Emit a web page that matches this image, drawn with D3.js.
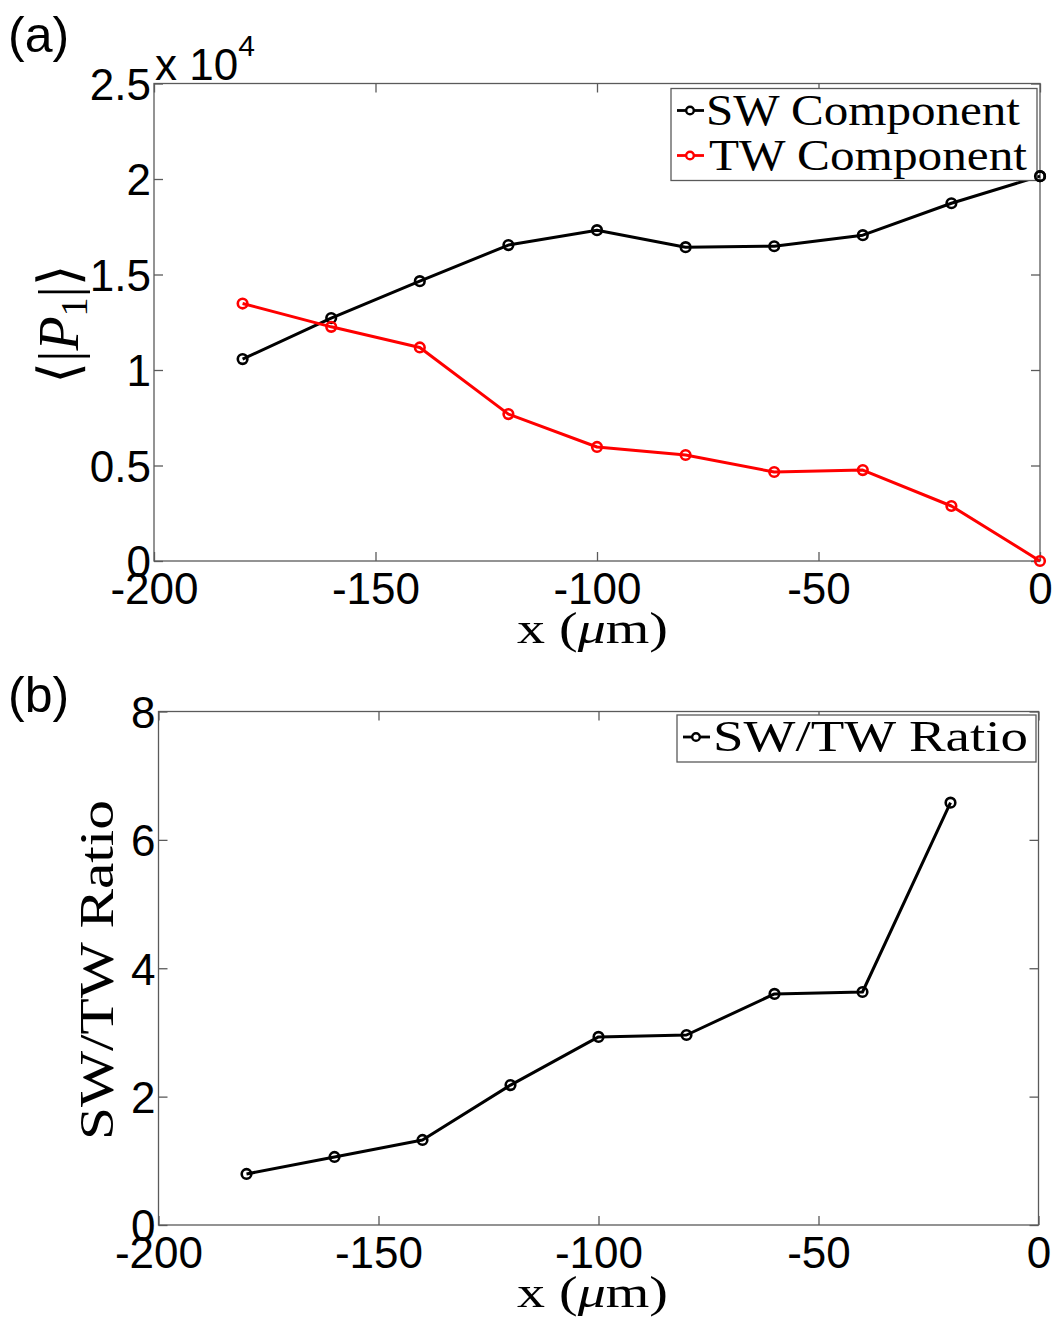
<!DOCTYPE html>
<html>
<head>
<meta charset="utf-8">
<script src="https://cdn.jsdelivr.net/npm/d3@7"></script>
<style>
  html, body { margin: 0; padding: 0; background: #fff; }
  svg { display: block; }
  .tick text { font-family: "Liberation Sans", Arial, sans-serif; fill: #000; }
</style>
</head>
<body>
<svg id="chart" width="1057" height="1330"></svg>
<script>
// Positions along the channel (micrometres)
const positions = [-180, -160, -140, -120, -100, -80, -60, -40, -20, 0];
// Mean |P1| amplitude of the standing-wave and travelling-wave components (units of 1e4)
const swComponent = [1.057, 1.272, 1.465, 1.654, 1.732, 1.643, 1.648, 1.706, 1.873, 2.015];
const twComponent = [1.348, 1.226, 1.118, 0.769, 0.597, 0.555, 0.466, 0.476, 0.288, 0.0];
// SW/TW ratio (no point at x = 0, where TW vanishes)
const ratioPositions = [-180, -160, -140, -120, -100, -80, -60, -40, -20];
const swTwRatio = [0.795, 1.06, 1.325, 2.18, 2.93, 2.96, 3.60, 3.63, 6.58];

const xTicks = [-200, -150, -100, -50, 0];
const yTicksA = [0, 0.5, 1, 1.5, 2, 2.5];
const yTicksB = [0, 2, 4, 6, 8];

const svg = d3.select("#chart");
const axisColor = "#5a5a5a";
const sans = "'Liberation Sans', Arial, sans-serif";
const serif = "'Liberation Serif', 'DejaVu Serif', serif";
const plain = d => String(d);

function panel(opts) {
  const { left, right, top, bottom, xDomain, yDomain, yTicks } = opts;
  const x = d3.scaleLinear().domain(xDomain).range([left, right]);
  const y = d3.scaleLinear().domain(yDomain).range([bottom, top]);
  const g = svg.append("g");

  // Frame
  g.append("rect")
    .attr("x", left).attr("y", top)
    .attr("width", right - left).attr("height", bottom - top)
    .attr("fill", "none").attr("stroke", axisColor).attr("stroke-width", 1.3);

  const tickLen = 9;
  // Bottom axis with labels
  const bx = g.append("g").attr("transform", `translate(0,${bottom})`)
    .call(d3.axisBottom(x).tickValues(xTicks).tickSize(-tickLen).tickPadding(0).tickFormat(plain));
  bx.select(".domain").remove();
  bx.selectAll("line").attr("stroke", axisColor).attr("stroke-width", 1.3);
  bx.selectAll("text").attr("y", 43).attr("dy", null).attr("font-size", 44);

  // Top axis (ticks only)
  const tx = g.append("g").attr("transform", `translate(0,${top})`)
    .call(d3.axisTop(x).tickValues(xTicks).tickSize(-tickLen).tickFormat(""));
  tx.select(".domain").remove();
  tx.selectAll("line").attr("stroke", axisColor).attr("stroke-width", 1.3);

  // Left axis with labels
  const ly = g.append("g").attr("transform", `translate(${left},0)`)
    .call(d3.axisLeft(y).tickValues(yTicks).tickSize(-tickLen).tickPadding(0).tickFormat(plain));
  ly.select(".domain").remove();
  ly.selectAll("line").attr("stroke", axisColor).attr("stroke-width", 1.3);
  ly.selectAll("text").attr("x", -3).attr("dy", "0.36em").attr("font-size", 44);

  // Right axis (ticks only)
  const ry = g.append("g").attr("transform", `translate(${right},0)`)
    .call(d3.axisRight(y).tickValues(yTicks).tickSize(-tickLen).tickFormat(""));
  ry.select(".domain").remove();
  ry.selectAll("line").attr("stroke", axisColor).attr("stroke-width", 1.3);

  // x-axis title
  const xl = g.append("text")
    .attr("x", 517).attr("y", bottom + 82)
    .attr("textLength", 151).attr("lengthAdjust", "spacingAndGlyphs")
    .attr("font-family", serif).attr("font-size", 45).attr("fill", "#000");
  xl.append("tspan").text("x (");
  xl.append("tspan").attr("font-style", "italic").text("\u03bc");
  xl.append("tspan").text("m)");

  return { g, x, y };
}

function series(p, xs, ys, color) {
  const line = d3.line().x((d, i) => p.x(xs[i])).y(d => p.y(d));
  p.g.append("path").datum(ys)
    .attr("d", line).attr("fill", "none")
    .attr("stroke", color).attr("stroke-width", 3).attr("stroke-linejoin", "round");
  p.g.selectAll(null).data(ys).enter().append("circle")
    .attr("cx", (d, i) => p.x(xs[i])).attr("cy", d => p.y(d))
    .attr("r", 4.8).attr("fill", "none").attr("stroke", color).attr("stroke-width", 2.6);
}

function legend(g, x0, y0, w, rows) {
  const rowH = 45;
  g.append("rect")
    .attr("x", x0).attr("y", y0).attr("width", w).attr("height", rows.length * rowH + 2)
    .attr("fill", "#fff").attr("stroke", axisColor).attr("stroke-width", 1.3);
  rows.forEach((r, i) => {
    const cy = y0 + 22 + i * rowH;
    g.append("line").attr("x1", x0 + 6).attr("x2", x0 + 33).attr("y1", cy).attr("y2", cy)
      .attr("stroke", r.color).attr("stroke-width", 2.8);
    g.append("circle").attr("cx", x0 + 19).attr("cy", cy).attr("r", 3.8)
      .attr("fill", "#fff").attr("stroke", r.color).attr("stroke-width", 2.4);
    g.append("text").attr("x", x0 + r.dx).attr("y", cy + 14)
      .attr("textLength", r.width).attr("lengthAdjust", "spacingAndGlyphs")
      .attr("font-family", serif).attr("font-size", 45).attr("fill", "#000").text(r.label);
  });
}

// ---- Panel (a): component amplitudes ----
const pa = panel({
  left: 154, right: 1040, top: 83.5, bottom: 561,
  xDomain: [-200, 0], yDomain: [0, 2.5], yTicks: yTicksA
});
series(pa, positions, swComponent, "#000");
series(pa, positions, twComponent, "#ff0000");
legend(pa.g, 671, 88.5, 366, [
  { label: "SW Component", color: "#000", dx: 35, width: 314 },
  { label: "TW Component", color: "#ff0000", dx: 38, width: 318 }
]);
// Last SW point sits on the legend frame; keep it visible on top
pa.g.append("circle").attr("cx", pa.x(positions[9])).attr("cy", pa.y(swComponent[9]))
  .attr("r", 4.8).attr("fill", "none").attr("stroke", "#000").attr("stroke-width", 2.6);

// Exponent multiplier
const mult = svg.append("text").attr("x", 155).attr("y", 80)
  .attr("font-family", sans).attr("font-size", 44).attr("fill", "#000");
mult.append("tspan").text("x 10");
mult.append("tspan").attr("font-size", 30).attr("dy", -24).text("4");

// y title (a): <|P1|>
const yla = svg.append("text")
  .attr("transform", "translate(78,324) rotate(-90)")
  .attr("text-anchor", "middle")
  .attr("font-family", serif).attr("font-size", 56).attr("fill", "#000");
yla.append("tspan").text("\u27e8|");
yla.append("tspan").attr("font-style", "italic").text("P");
yla.append("tspan").attr("font-size", 38).attr("dy", 9).text("1");
yla.append("tspan").attr("dy", -9).text("|\u27e9");

svg.append("text").attr("x", 8).attr("y", 52)
  .attr("font-family", sans).attr("font-size", 50).attr("fill", "#000").text("(a)");

// ---- Panel (b): SW/TW ratio ----
const pb = panel({
  left: 158.5, right: 1038.5, top: 711.5, bottom: 1225,
  xDomain: [-200, 0], yDomain: [0, 8], yTicks: yTicksB
});
series(pb, ratioPositions, swTwRatio, "#000");
legend(pb.g, 677, 715, 359, [
  { label: "SW/TW Ratio", color: "#000", dx: 36, width: 315 }
]);

svg.append("text")
  .attr("transform", "translate(113,1140) rotate(-90)")
  .attr("textLength", 340).attr("lengthAdjust", "spacingAndGlyphs")
  .attr("font-family", serif).attr("font-size", 48).attr("fill", "#000")
  .text("SW/TW Ratio");

svg.append("text").attr("x", 8).attr("y", 712)
  .attr("font-family", sans).attr("font-size", 50).attr("fill", "#000").text("(b)");
</script>
</body>
</html>
